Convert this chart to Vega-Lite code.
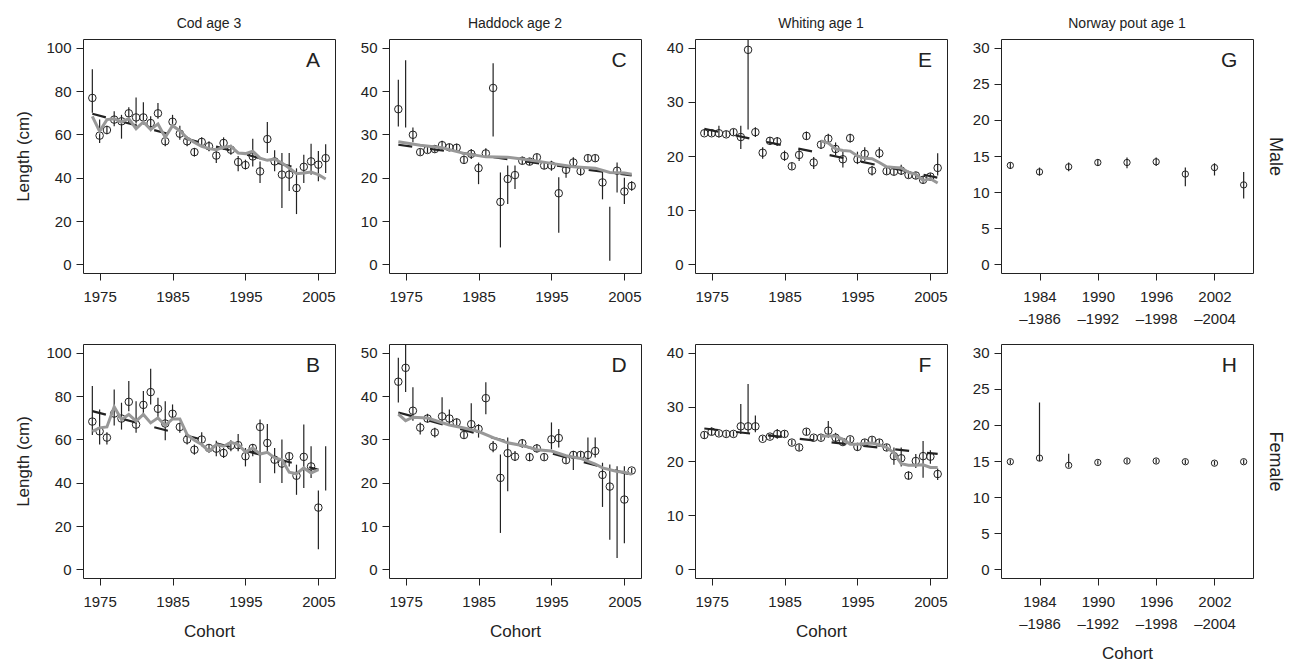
{
"$schema": "https://vega.github.io/schema/vega-lite/v6.json",
"padding": {"left": 14, "top": 16, "right": 0, "bottom": 0},
"columns": 4,
"spacing": {"row": 71, "column": 54},
"bounds": "flush",
"datasets": {
"pts": [
{"p":"A","year":1974,"len":76.8,"lo":70,"hi":90},{"p":"A","year":1975,"len":59.4,"lo":56,"hi":66.8},{"p":"A","year":1976,"len":62,"lo":60,"hi":64},{"p":"A","year":1977,"len":66.8,"lo":63.7,"hi":70.6},{"p":"A","year":1978,"len":66,"lo":58,"hi":69},{"p":"A","year":1979,"len":69.7,"lo":65,"hi":72.5},{"p":"A","year":1980,"len":67.8,"lo":65,"hi":77},{"p":"A","year":1981,"len":67.8,"lo":64.5,"hi":74.8},{"p":"A","year":1982,"len":65.2,"lo":61.4,"hi":68.3},{"p":"A","year":1983,"len":69.7,"lo":67.2,"hi":74.5},{"p":"A","year":1984,"len":56.8,"lo":54.5,"hi":59},{"p":"A","year":1985,"len":65.8,"lo":63,"hi":69},{"p":"A","year":1986,"len":60.3,"lo":57.5,"hi":64},{"p":"A","year":1987,"len":56.8,"lo":54.5,"hi":59},{"p":"A","year":1988,"len":51.8,"lo":49.8,"hi":53.7},{"p":"A","year":1989,"len":56.5,"lo":54.5,"hi":58.6},{"p":"A","year":1990,"len":54.5,"lo":52.2,"hi":56.8},{"p":"A","year":1991,"len":50.2,"lo":46.8,"hi":52.2},{"p":"A","year":1992,"len":56,"lo":52.9,"hi":58.6},{"p":"A","year":1993,"len":52.9,"lo":50.6,"hi":55.2},{"p":"A","year":1994,"len":47.2,"lo":43,"hi":50},{"p":"A","year":1995,"len":45.8,"lo":43.8,"hi":48.3},{"p":"A","year":1996,"len":49.8,"lo":45.2,"hi":58},{"p":"A","year":1997,"len":42.9,"lo":37.5,"hi":47.5},{"p":"A","year":1998,"len":57.8,"lo":51.4,"hi":65.7},{"p":"A","year":1999,"len":47.5,"lo":43,"hi":52.6},{"p":"A","year":2000,"len":41.4,"lo":26,"hi":51.4},{"p":"A","year":2001,"len":41.4,"lo":33.8,"hi":51.4},{"p":"A","year":2002,"len":35.2,"lo":23.2,"hi":44.3},{"p":"A","year":2003,"len":45,"lo":37.5,"hi":50.6},{"p":"A","year":2004,"len":47.5,"lo":41.4,"hi":55.7},{"p":"A","year":2005,"len":46,"lo":38.4,"hi":52.3},{"p":"A","year":2006,"len":49,"lo":42.2,"hi":55.4},
{"p":"B","year":1974,"len":68.2,"lo":62,"hi":84.6},{"p":"B","year":1975,"len":63.7,"lo":57.6,"hi":73.8},{"p":"B","year":1976,"len":60.8,"lo":57.6,"hi":63.3},{"p":"B","year":1977,"len":71.9,"lo":66.4,"hi":83},{"p":"B","year":1978,"len":69.6,"lo":64.5,"hi":76.9},{"p":"B","year":1979,"len":77.3,"lo":73,"hi":86.9},{"p":"B","year":1980,"len":66.8,"lo":63,"hi":77.6},{"p":"B","year":1981,"len":75.9,"lo":70.7,"hi":82.3},{"p":"B","year":1982,"len":81.8,"lo":76.1,"hi":92.6},{"p":"B","year":1983,"len":74.1,"lo":69.1,"hi":79.2},{"p":"B","year":1984,"len":67.3,"lo":59.6,"hi":77.6},{"p":"B","year":1985,"len":71.8,"lo":69.1,"hi":76.1},{"p":"B","year":1986,"len":65.7,"lo":63,"hi":67.6},{"p":"B","year":1987,"len":59.9,"lo":57.6,"hi":62.2},{"p":"B","year":1988,"len":55.2,"lo":52.9,"hi":57.6},{"p":"B","year":1989,"len":59.9,"lo":56.8,"hi":63.3},{"p":"B","year":1990,"len":56,"lo":53.7,"hi":57.6},{"p":"B","year":1991,"len":55.7,"lo":52.2,"hi":59.3},{"p":"B","year":1992,"len":53.7,"lo":51.4,"hi":56},{"p":"B","year":1993,"len":57.1,"lo":54.5,"hi":59.6},{"p":"B","year":1994,"len":57.3,"lo":54.5,"hi":62.5},{"p":"B","year":1995,"len":52.2,"lo":47.5,"hi":56},{"p":"B","year":1996,"len":56,"lo":52.2,"hi":57.9},{"p":"B","year":1997,"len":65.7,"lo":39.8,"hi":69.1},{"p":"B","year":1998,"len":58.3,"lo":53.7,"hi":67.1},{"p":"B","year":1999,"len":50.6,"lo":44.4,"hi":56},{"p":"B","year":2000,"len":48.8,"lo":39.8,"hi":59.9},{"p":"B","year":2001,"len":52.2,"lo":47.5,"hi":54},{"p":"B","year":2002,"len":43.2,"lo":34.4,"hi":48.3},{"p":"B","year":2003,"len":51.9,"lo":37.5,"hi":66.8},{"p":"B","year":2004,"len":47.5,"lo":42.1,"hi":56.8},{"p":"B","year":2005,"len":28.5,"lo":9.3,"hi":36.4},{"p":"B","year":2006,"len":null,"lo":36.4,"hi":56.8},
{"p":"C","year":1974,"len":35.8,"lo":31.8,"hi":42.6},{"p":"C","year":1975,"len":null,"lo":31.6,"hi":47.1},{"p":"C","year":1976,"len":29.9,"lo":28.2,"hi":31.6},{"p":"C","year":1977,"len":25.9,"lo":25.2,"hi":26.6},{"p":"C","year":1978,"len":26.4,"lo":25.7,"hi":27.1},{"p":"C","year":1979,"len":26.6,"lo":25.8,"hi":27.4},{"p":"C","year":1980,"len":27.5,"lo":26.4,"hi":28.5},{"p":"C","year":1981,"len":27,"lo":26.2,"hi":27.8},{"p":"C","year":1982,"len":26.9,"lo":25.9,"hi":27.8},{"p":"C","year":1983,"len":24.1,"lo":23.3,"hi":25.1},{"p":"C","year":1984,"len":25.5,"lo":24.3,"hi":26.6},{"p":"C","year":1985,"len":22.2,"lo":18.5,"hi":23.5},{"p":"C","year":1986,"len":25.6,"lo":24.7,"hi":26.8},{"p":"C","year":1987,"len":40.7,"lo":29.5,"hi":46.4},{"p":"C","year":1988,"len":14.4,"lo":3.9,"hi":21.2},{"p":"C","year":1989,"len":19.7,"lo":13.9,"hi":22.8},{"p":"C","year":1990,"len":20.6,"lo":17.4,"hi":22.8},{"p":"C","year":1991,"len":23.9,"lo":23.1,"hi":24.8},{"p":"C","year":1992,"len":23.7,"lo":22.9,"hi":24.5},{"p":"C","year":1993,"len":24.7,"lo":23.7,"hi":25.5},{"p":"C","year":1994,"len":22.8,"lo":22,"hi":23.6},{"p":"C","year":1995,"len":22.8,"lo":21.6,"hi":23.9},{"p":"C","year":1996,"len":16.4,"lo":7.3,"hi":20.1},{"p":"C","year":1997,"len":21.8,"lo":20,"hi":22.8},{"p":"C","year":1998,"len":23.5,"lo":22.3,"hi":24.7},{"p":"C","year":1999,"len":21.5,"lo":20.5,"hi":22.4},{"p":"C","year":2000,"len":24.5,"lo":23.7,"hi":25.3},{"p":"C","year":2001,"len":24.5,"lo":23.7,"hi":25.3},{"p":"C","year":2002,"len":18.9,"lo":15,"hi":21.6},{"p":"C","year":2003,"len":null,"lo":0.8,"hi":13.3},{"p":"C","year":2004,"len":21.6,"lo":16.6,"hi":23.5},{"p":"C","year":2005,"len":16.8,"lo":13.9,"hi":20},{"p":"C","year":2006,"len":18.1,"lo":17,"hi":19.2},
{"p":"D","year":1974,"len":43.3,"lo":38.5,"hi":48.8},{"p":"D","year":1975,"len":46.5,"lo":40.9,"hi":53},{"p":"D","year":1976,"len":36.6,"lo":34.3,"hi":42},{"p":"D","year":1977,"len":32.7,"lo":31.1,"hi":33.9},{"p":"D","year":1978,"len":34.8,"lo":33.9,"hi":35.9},{"p":"D","year":1979,"len":31.6,"lo":30.4,"hi":32.7},{"p":"D","year":1980,"len":35.3,"lo":33.9,"hi":39.7},{"p":"D","year":1981,"len":34.8,"lo":33.1,"hi":36.9},{"p":"D","year":1982,"len":33.9,"lo":32.7,"hi":34.8},{"p":"D","year":1983,"len":31,"lo":30.2,"hi":31.8},{"p":"D","year":1984,"len":33.5,"lo":32,"hi":38.3},{"p":"D","year":1985,"len":32.4,"lo":30.4,"hi":33.5},{"p":"D","year":1986,"len":39.5,"lo":35.8,"hi":43.2},{"p":"D","year":1987,"len":28.3,"lo":27,"hi":29.6},{"p":"D","year":1988,"len":21.1,"lo":8.4,"hi":26.5},{"p":"D","year":1989,"len":26.8,"lo":18,"hi":30.4},{"p":"D","year":1990,"len":26,"lo":25,"hi":27.3},{"p":"D","year":1991,"len":29.1,"lo":28.1,"hi":30},{"p":"D","year":1992,"len":25.9,"lo":25,"hi":26.8},{"p":"D","year":1993,"len":27.9,"lo":27,"hi":28.9},{"p":"D","year":1994,"len":25.9,"lo":25.1,"hi":26.7},{"p":"D","year":1995,"len":30,"lo":27.7,"hi":33.9},{"p":"D","year":1996,"len":30.3,"lo":28.1,"hi":32.4},{"p":"D","year":1997,"len":25.2,"lo":24.4,"hi":26},{"p":"D","year":1998,"len":26.4,"lo":22.9,"hi":27.3},{"p":"D","year":1999,"len":26.4,"lo":25.6,"hi":27.2},{"p":"D","year":2000,"len":26.4,"lo":25,"hi":30.4},{"p":"D","year":2001,"len":27.3,"lo":25.8,"hi":30.4},{"p":"D","year":2002,"len":21.8,"lo":14.4,"hi":24.6},{"p":"D","year":2003,"len":19.1,"lo":6.8,"hi":24.2},{"p":"D","year":2004,"len":null,"lo":2.6,"hi":23.8},{"p":"D","year":2005,"len":16.1,"lo":6,"hi":23.8},{"p":"D","year":2006,"len":22.8,"lo":22,"hi":23.4},
{"p":"E","year":1974,"len":24.2,"lo":23.8,"hi":24.8},{"p":"E","year":1975,"len":24.2,"lo":23.7,"hi":24.8},{"p":"E","year":1976,"len":24.2,"lo":23.4,"hi":25.6},{"p":"E","year":1977,"len":24,"lo":23.5,"hi":24.6},{"p":"E","year":1978,"len":24.4,"lo":23.8,"hi":25},{"p":"E","year":1979,"len":23.5,"lo":21.3,"hi":25.6},{"p":"E","year":1980,"len":39.6,"lo":24.9,"hi":45},{"p":"E","year":1981,"len":24.4,"lo":23.5,"hi":25.3},{"p":"E","year":1982,"len":20.6,"lo":19.5,"hi":21.6},{"p":"E","year":1983,"len":22.8,"lo":22.2,"hi":23.5},{"p":"E","year":1984,"len":22.7,"lo":21.9,"hi":23.5},{"p":"E","year":1985,"len":20,"lo":19.1,"hi":21},{"p":"E","year":1986,"len":18.1,"lo":17.5,"hi":18.8},{"p":"E","year":1987,"len":20.2,"lo":19.1,"hi":21.2},{"p":"E","year":1988,"len":23.7,"lo":23,"hi":24.5},{"p":"E","year":1989,"len":18.8,"lo":17.6,"hi":19.8},{"p":"E","year":1990,"len":22.1,"lo":21.3,"hi":22.8},{"p":"E","year":1991,"len":23.2,"lo":22.5,"hi":24.1},{"p":"E","year":1992,"len":21.3,"lo":20.1,"hi":22.5},{"p":"E","year":1993,"len":19.4,"lo":17.9,"hi":20.8},{"p":"E","year":1994,"len":23.3,"lo":22.5,"hi":24.1},{"p":"E","year":1995,"len":19.4,"lo":18.5,"hi":20.8},{"p":"E","year":1996,"len":20.4,"lo":19.1,"hi":21.6},{"p":"E","year":1997,"len":17.3,"lo":16.4,"hi":18.2},{"p":"E","year":1998,"len":20.5,"lo":19.6,"hi":21.6},{"p":"E","year":1999,"len":17.2,"lo":16.6,"hi":17.8},{"p":"E","year":2000,"len":17.1,"lo":16.5,"hi":17.7},{"p":"E","year":2001,"len":17.3,"lo":16.5,"hi":18.4},{"p":"E","year":2002,"len":16.5,"lo":15.9,"hi":17.1},{"p":"E","year":2003,"len":16.4,"lo":15.8,"hi":17},{"p":"E","year":2004,"len":15.6,"lo":15,"hi":16.3},{"p":"E","year":2005,"len":16.2,"lo":15.6,"hi":16.8},{"p":"E","year":2006,"len":17.8,"lo":16.4,"hi":20.5},
{"p":"F","year":1974,"len":24.8,"lo":24.1,"hi":25.4},{"p":"F","year":1975,"len":25.4,"lo":24.8,"hi":26.2},{"p":"F","year":1976,"len":25.1,"lo":24.6,"hi":25.6},{"p":"F","year":1977,"len":25,"lo":24.5,"hi":25.5},{"p":"F","year":1978,"len":25,"lo":24.5,"hi":25.5},{"p":"F","year":1979,"len":26.4,"lo":25,"hi":30.5},{"p":"F","year":1980,"len":26.4,"lo":25,"hi":34.2},{"p":"F","year":1981,"len":26.4,"lo":25.3,"hi":28.4},{"p":"F","year":1982,"len":24.1,"lo":23.7,"hi":24.6},{"p":"F","year":1983,"len":24.5,"lo":24,"hi":25},{"p":"F","year":1984,"len":25,"lo":24.1,"hi":25.9},{"p":"F","year":1985,"len":25,"lo":24.4,"hi":25.6},{"p":"F","year":1986,"len":23.4,"lo":22.9,"hi":23.9},{"p":"F","year":1987,"len":22.5,"lo":21.9,"hi":23.1},{"p":"F","year":1988,"len":25.4,"lo":24.8,"hi":26},{"p":"F","year":1989,"len":24.3,"lo":23.8,"hi":24.8},{"p":"F","year":1990,"len":24.3,"lo":23.8,"hi":24.8},{"p":"F","year":1991,"len":25.6,"lo":24.3,"hi":27.4},{"p":"F","year":1992,"len":24.3,"lo":23.4,"hi":25.2},{"p":"F","year":1993,"len":23.5,"lo":22.9,"hi":24.1},{"p":"F","year":1994,"len":24,"lo":23.5,"hi":24.5},{"p":"F","year":1995,"len":22.6,"lo":21.9,"hi":23.3},{"p":"F","year":1996,"len":23.4,"lo":22.8,"hi":24},{"p":"F","year":1997,"len":23.9,"lo":23.3,"hi":24.5},{"p":"F","year":1998,"len":23.4,"lo":22.8,"hi":24},{"p":"F","year":1999,"len":22.5,"lo":21.9,"hi":23.1},{"p":"F","year":2000,"len":20.9,"lo":19.3,"hi":22.5},{"p":"F","year":2001,"len":20.5,"lo":19,"hi":22.5},{"p":"F","year":2002,"len":17.3,"lo":16.6,"hi":18.1},{"p":"F","year":2003,"len":20,"lo":18.7,"hi":21.3},{"p":"F","year":2004,"len":20.9,"lo":16.9,"hi":23.7},{"p":"F","year":2005,"len":20.8,"lo":19.5,"hi":22},{"p":"F","year":2006,"len":17.6,"lo":16.5,"hi":18.6},
{"p":"G","year":1981,"len":13.7,"lo":13.2,"hi":14.1},{"p":"G","year":1984,"len":12.8,"lo":12.3,"hi":13.4},{"p":"G","year":1987,"len":13.5,"lo":12.9,"hi":14.1},{"p":"G","year":1990,"len":14.1,"lo":13.6,"hi":14.6},{"p":"G","year":1993,"len":14.1,"lo":13.3,"hi":14.8},{"p":"G","year":1996,"len":14.2,"lo":13.6,"hi":14.8},{"p":"G","year":1999,"len":12.5,"lo":10.8,"hi":13.4},{"p":"G","year":2002,"len":13.4,"lo":12.3,"hi":14},{"p":"G","year":2005,"len":11,"lo":9.1,"hi":12.8},
{"p":"H","year":1981,"len":14.9,"lo":14.6,"hi":15.2},{"p":"H","year":1984,"len":15.4,"lo":15,"hi":23.1},{"p":"H","year":1987,"len":14.4,"lo":14.1,"hi":16},{"p":"H","year":1990,"len":14.8,"lo":14.5,"hi":15.1},{"p":"H","year":1993,"len":15,"lo":14.7,"hi":15.3},{"p":"H","year":1996,"len":15,"lo":14.7,"hi":15.3},{"p":"H","year":1999,"len":14.9,"lo":14.6,"hi":15.2},{"p":"H","year":2002,"len":14.7,"lo":14.4,"hi":15},{"p":"H","year":2005,"len":14.9,"lo":14.6,"hi":15.2}
],
"lines": [
{"p":"A","s":"k","year":1974,"v":69.5},{"p":"A","s":"k","year":2002,"v":44.5},
{"p":"B","s":"k","year":1974,"v":73},{"p":"B","s":"k","year":2005,"v":46},
{"p":"C","s":"k","year":1974,"v":27.6},{"p":"C","s":"k","year":2006,"v":20.5},
{"p":"D","s":"k","year":1974,"v":36.2},{"p":"D","s":"k","year":2006,"v":21.8},
{"p":"E","s":"k","year":1974,"v":25},{"p":"E","s":"k","year":2006,"v":16},
{"p":"F","s":"k","year":1974,"v":26},{"p":"F","s":"k","year":2006,"v":21.3},
{"p":"A","s":"g","year":1974,"v":68.3},{"p":"A","s":"g","year":1975,"v":61.4},{"p":"A","s":"g","year":1976,"v":66.8},{"p":"A","s":"g","year":1977,"v":67.2},{"p":"A","s":"g","year":1978,"v":65.7},{"p":"A","s":"g","year":1979,"v":67.2},{"p":"A","s":"g","year":1980,"v":62.6},{"p":"A","s":"g","year":1981,"v":65.7},{"p":"A","s":"g","year":1982,"v":62.2},{"p":"A","s":"g","year":1983,"v":64.8},{"p":"A","s":"g","year":1984,"v":58.6},{"p":"A","s":"g","year":1985,"v":64},{"p":"A","s":"g","year":1986,"v":61.7},{"p":"A","s":"g","year":1987,"v":58.3},{"p":"A","s":"g","year":1988,"v":56.3},{"p":"A","s":"g","year":1989,"v":54.5},{"p":"A","s":"g","year":1990,"v":53.4},{"p":"A","s":"g","year":1991,"v":52.9},{"p":"A","s":"g","year":1992,"v":54},{"p":"A","s":"g","year":1993,"v":54.5},{"p":"A","s":"g","year":1994,"v":51.4},{"p":"A","s":"g","year":1995,"v":51.1},{"p":"A","s":"g","year":1996,"v":52.2},{"p":"A","s":"g","year":1997,"v":49},{"p":"A","s":"g","year":1998,"v":48},{"p":"A","s":"g","year":1999,"v":48.6},{"p":"A","s":"g","year":2000,"v":46.8},{"p":"A","s":"g","year":2001,"v":44.5},{"p":"A","s":"g","year":2002,"v":41.8},{"p":"A","s":"g","year":2003,"v":42.2},{"p":"A","s":"g","year":2004,"v":42.6},{"p":"A","s":"g","year":2005,"v":41.4},{"p":"A","s":"g","year":2006,"v":39.4},
{"p":"B","s":"g","year":1974,"v":63.7},{"p":"B","s":"g","year":1975,"v":65.3},{"p":"B","s":"g","year":1976,"v":65.7},{"p":"B","s":"g","year":1977,"v":75},{"p":"B","s":"g","year":1978,"v":69.1},{"p":"B","s":"g","year":1979,"v":71.5},{"p":"B","s":"g","year":1980,"v":68.4},{"p":"B","s":"g","year":1981,"v":71.5},{"p":"B","s":"g","year":1982,"v":67.6},{"p":"B","s":"g","year":1983,"v":69.9},{"p":"B","s":"g","year":1984,"v":66.4},{"p":"B","s":"g","year":1985,"v":69.4},{"p":"B","s":"g","year":1986,"v":69.4},{"p":"B","s":"g","year":1987,"v":62.2},{"p":"B","s":"g","year":1988,"v":59.6},{"p":"B","s":"g","year":1989,"v":57.6},{"p":"B","s":"g","year":1990,"v":54.5},{"p":"B","s":"g","year":1991,"v":57.6},{"p":"B","s":"g","year":1992,"v":56.8},{"p":"B","s":"g","year":1993,"v":58.6},{"p":"B","s":"g","year":1994,"v":57.6},{"p":"B","s":"g","year":1995,"v":54.2},{"p":"B","s":"g","year":1996,"v":56},{"p":"B","s":"g","year":1997,"v":53.2},{"p":"B","s":"g","year":1998,"v":54},{"p":"B","s":"g","year":1999,"v":51.4},{"p":"B","s":"g","year":2000,"v":50.6},{"p":"B","s":"g","year":2001,"v":44.8},{"p":"B","s":"g","year":2002,"v":44.1},{"p":"B","s":"g","year":2003,"v":46.8},{"p":"B","s":"g","year":2004,"v":44.4},{"p":"B","s":"g","year":2005,"v":46},
{"p":"C","s":"g","year":1974,"v":28.3},{"p":"C","s":"g","year":1977,"v":27.5},{"p":"C","s":"g","year":1980,"v":26.9},{"p":"C","s":"g","year":1983,"v":25.6},{"p":"C","s":"g","year":1986,"v":24.8},{"p":"C","s":"g","year":1989,"v":24.7},{"p":"C","s":"g","year":1992,"v":24.1},{"p":"C","s":"g","year":1995,"v":23.3},{"p":"C","s":"g","year":1998,"v":22.5},{"p":"C","s":"g","year":2001,"v":22.2},{"p":"C","s":"g","year":2003,"v":21.2},{"p":"C","s":"g","year":2005,"v":21.1},{"p":"C","s":"g","year":2006,"v":20.8},
{"p":"D","s":"g","year":1974,"v":35.8},{"p":"D","s":"g","year":1975,"v":34.3},{"p":"D","s":"g","year":1976,"v":35.1},{"p":"D","s":"g","year":1978,"v":34.9},{"p":"D","s":"g","year":1981,"v":33.3},{"p":"D","s":"g","year":1983,"v":32.6},{"p":"D","s":"g","year":1985,"v":31.8},{"p":"D","s":"g","year":1987,"v":30.4},{"p":"D","s":"g","year":1989,"v":29.2},{"p":"D","s":"g","year":1991,"v":28.6},{"p":"D","s":"g","year":1993,"v":27.6},{"p":"D","s":"g","year":1995,"v":27.3},{"p":"D","s":"g","year":1997,"v":26.2},{"p":"D","s":"g","year":1999,"v":25.6},{"p":"D","s":"g","year":2001,"v":24.3},{"p":"D","s":"g","year":2002,"v":23.4},{"p":"D","s":"g","year":2004,"v":22.6},{"p":"D","s":"g","year":2005,"v":22.4},{"p":"D","s":"g","year":2006,"v":21.9},
{"p":"E","s":"g","year":1990,"v":22.8},{"p":"E","s":"g","year":1991,"v":22.4},{"p":"E","s":"g","year":1992,"v":21.3},{"p":"E","s":"g","year":1993,"v":21},{"p":"E","s":"g","year":1994,"v":20.9},{"p":"E","s":"g","year":1995,"v":20},{"p":"E","s":"g","year":1996,"v":19.6},{"p":"E","s":"g","year":1997,"v":19.5},{"p":"E","s":"g","year":1998,"v":18.8},{"p":"E","s":"g","year":1999,"v":18},{"p":"E","s":"g","year":2000,"v":17.9},{"p":"E","s":"g","year":2001,"v":17.8},{"p":"E","s":"g","year":2002,"v":17},{"p":"E","s":"g","year":2003,"v":16.6},{"p":"E","s":"g","year":2004,"v":15.5},{"p":"E","s":"g","year":2005,"v":15.8},{"p":"E","s":"g","year":2006,"v":15},
{"p":"F","s":"g","year":1990,"v":24.6},{"p":"F","s":"g","year":1991,"v":24.6},{"p":"F","s":"g","year":1992,"v":24.6},{"p":"F","s":"g","year":1993,"v":24},{"p":"F","s":"g","year":1994,"v":23.1},{"p":"F","s":"g","year":1995,"v":23.1},{"p":"F","s":"g","year":1996,"v":23.2},{"p":"F","s":"g","year":1997,"v":23.3},{"p":"F","s":"g","year":1998,"v":23},{"p":"F","s":"g","year":1999,"v":22.5},{"p":"F","s":"g","year":2000,"v":21.5},{"p":"F","s":"g","year":2001,"v":19.5},{"p":"F","s":"g","year":2002,"v":19.2},{"p":"F","s":"g","year":2003,"v":19.2},{"p":"F","s":"g","year":2004,"v":19.3},{"p":"F","s":"g","year":2005,"v":18.8},{"p":"F","s":"g","year":2006,"v":18.8}
]
},
"concat": [
{"width":252,"height":234,"title":"Cod age 3","resolve":{"axis":{"x":"independent","y":"independent"}},"layer":[
 {"data":{"name":"pts"},"transform":[{"filter":"datum.p=='A'"}],"mark":{"type":"rule","clip":true,"color":"#222","strokeWidth":1.2},"encoding":{"x":{"field":"year","type":"quantitative","scale":{"domain":[1972.72,2007.28],"nice":false,"zero":false},"axis":{"values":[1975,1985,1995,2005],"format":"d","title":null}},"y":{"field":"lo","type":"quantitative","scale":{"domain":[-4,104],"nice":false,"zero":false},"axis":{"values":[0,20,40,60,80,100],"title":"Length (cm)"}},"y2":{"field":"hi"}}},
 {"data":{"name":"pts"},"transform":[{"filter":"datum.p=='A'"}],"mark":{"type":"point","shape":"circle","filled":false,"size":57,"color":"#222","strokeWidth":1,"opacity":1},"encoding":{"x":{"field":"year","type":"quantitative","axis":null},"y":{"field":"len","type":"quantitative","axis":null}}},
 {"data":{"name":"lines"},"transform":[{"filter":"datum.p=='A' && datum.s=='k'"}],"mark":{"type":"line","color":"#222","strokeWidth":2.2,"strokeDash":[14,18]},"encoding":{"x":{"field":"year","type":"quantitative","axis":null},"y":{"field":"v","type":"quantitative","axis":null}}},
 {"data":{"name":"lines"},"transform":[{"filter":"datum.p=='A' && datum.s=='g'"}],"mark":{"type":"line","color":"#989898","strokeWidth":3},"encoding":{"x":{"field":"year","type":"quantitative","axis":null},"y":{"field":"v","type":"quantitative","axis":null}}},
 {"data":{"values":[{"lab":"A"}]},"mark":{"type":"text","fontSize":21,"color":"#222","align":"center","baseline":"middle"},"encoding":{"text":{"field":"lab"},"x":{"datum":2004.26,"type":"quantitative","axis":null},"y":{"datum":93.8,"type":"quantitative","axis":null}}}
]},
{"width":252,"height":234,"title":"Haddock age 2","resolve":{"axis":{"x":"independent","y":"independent"}},"layer":[
 {"data":{"name":"pts"},"transform":[{"filter":"datum.p=='C'"}],"mark":{"type":"rule","clip":true,"color":"#222","strokeWidth":1.2},"encoding":{"x":{"field":"year","type":"quantitative","scale":{"domain":[1972.72,2007.28],"nice":false,"zero":false},"axis":{"values":[1975,1985,1995,2005],"format":"d","title":null}},"y":{"field":"lo","type":"quantitative","scale":{"domain":[-2,52],"nice":false,"zero":false},"axis":{"values":[0,10,20,30,40,50],"title":null}},"y2":{"field":"hi"}}},
 {"data":{"name":"pts"},"transform":[{"filter":"datum.p=='C'"}],"mark":{"type":"point","shape":"circle","filled":false,"size":57,"color":"#222","strokeWidth":1,"opacity":1},"encoding":{"x":{"field":"year","type":"quantitative","axis":null},"y":{"field":"len","type":"quantitative","axis":null}}},
 {"data":{"name":"lines"},"transform":[{"filter":"datum.p=='C' && datum.s=='k'"}],"mark":{"type":"line","color":"#222","strokeWidth":2.2,"strokeDash":[14,18]},"encoding":{"x":{"field":"year","type":"quantitative","axis":null},"y":{"field":"v","type":"quantitative","axis":null}}},
 {"data":{"name":"lines"},"transform":[{"filter":"datum.p=='C' && datum.s=='g'"}],"mark":{"type":"line","color":"#989898","strokeWidth":3},"encoding":{"x":{"field":"year","type":"quantitative","axis":null},"y":{"field":"v","type":"quantitative","axis":null}}},
 {"data":{"values":[{"lab":"C"}]},"mark":{"type":"text","fontSize":21,"color":"#222","align":"center","baseline":"middle"},"encoding":{"text":{"field":"lab"},"x":{"datum":2004.26,"type":"quantitative","axis":null},"y":{"datum":46.9,"type":"quantitative","axis":null}}}
]},
{"width":252,"height":234,"title":"Whiting age 1","resolve":{"axis":{"x":"independent","y":"independent"}},"layer":[
 {"data":{"name":"pts"},"transform":[{"filter":"datum.p=='E'"}],"mark":{"type":"rule","clip":true,"color":"#222","strokeWidth":1.2},"encoding":{"x":{"field":"year","type":"quantitative","scale":{"domain":[1972.72,2007.28],"nice":false,"zero":false},"axis":{"values":[1975,1985,1995,2005],"format":"d","title":null}},"y":{"field":"lo","type":"quantitative","scale":{"domain":[-1.6,41.6],"nice":false,"zero":false},"axis":{"values":[0,10,20,30,40],"title":null}},"y2":{"field":"hi"}}},
 {"data":{"name":"pts"},"transform":[{"filter":"datum.p=='E'"}],"mark":{"type":"point","shape":"circle","filled":false,"size":57,"color":"#222","strokeWidth":1,"opacity":1},"encoding":{"x":{"field":"year","type":"quantitative","axis":null},"y":{"field":"len","type":"quantitative","axis":null}}},
 {"data":{"name":"lines"},"transform":[{"filter":"datum.p=='E' && datum.s=='k'"}],"mark":{"type":"line","color":"#222","strokeWidth":2.2,"strokeDash":[14,18]},"encoding":{"x":{"field":"year","type":"quantitative","axis":null},"y":{"field":"v","type":"quantitative","axis":null}}},
 {"data":{"name":"lines"},"transform":[{"filter":"datum.p=='E' && datum.s=='g'"}],"mark":{"type":"line","color":"#989898","strokeWidth":3},"encoding":{"x":{"field":"year","type":"quantitative","axis":null},"y":{"field":"v","type":"quantitative","axis":null}}},
 {"data":{"values":[{"lab":"E"}]},"mark":{"type":"text","fontSize":21,"color":"#222","align":"center","baseline":"middle"},"encoding":{"text":{"field":"lab"},"x":{"datum":2004.26,"type":"quantitative","axis":null},"y":{"datum":37.5,"type":"quantitative","axis":null}}}
]},
{"width":252,"height":234,"title":"Norway pout age 1","resolve":{"axis":{"x":"independent","y":"independent"}},"layer":[
 {"data":{"name":"pts"},"transform":[{"filter":"datum.p=='G'"}],"mark":{"type":"rule","clip":true,"color":"#222","strokeWidth":1.2},"encoding":{"x":{"field":"year","type":"quantitative","scale":{"domain":[1980.04,2005.96],"nice":false,"zero":false},"axis":{"values":[1984,1990,1996,2002],"format":"d","title":null,"labelExpr":"[datum.label, '–' + format(datum.value + 2, 'd')]","labelLineHeight":22}},"y":{"field":"lo","type":"quantitative","scale":{"domain":[-1.2,31.2],"nice":false,"zero":false},"axis":{"values":[0,5,10,15,20,25,30],"title":null}},"y2":{"field":"hi"}}},
 {"data":{"name":"pts"},"transform":[{"filter":"datum.p=='G'"}],"mark":{"type":"point","shape":"circle","filled":false,"size":40,"color":"#222","strokeWidth":1,"opacity":1},"encoding":{"x":{"field":"year","type":"quantitative","axis":null},"y":{"field":"len","type":"quantitative","axis":null}}},
 {"data":{"values":[{"lab":"G"}]},"mark":{"type":"text","fontSize":21,"color":"#222","align":"center","baseline":"middle"},"encoding":{"text":{"field":"lab"},"x":{"datum":2003.52,"type":"quantitative","axis":null},"y":{"datum":28.15,"type":"quantitative","axis":{"orient":"right","title":"Male","labels":false,"ticks":false,"domain":false,"titlePadding":12,"titleFontSize":18}}}}
]},
{"width":252,"height":234,"resolve":{"axis":{"x":"independent","y":"independent"}},"layer":[
 {"data":{"name":"pts"},"transform":[{"filter":"datum.p=='B'"}],"mark":{"type":"rule","clip":true,"color":"#222","strokeWidth":1.2},"encoding":{"x":{"field":"year","type":"quantitative","scale":{"domain":[1972.72,2007.28],"nice":false,"zero":false},"axis":{"values":[1975,1985,1995,2005],"format":"d","title":"Cohort"}},"y":{"field":"lo","type":"quantitative","scale":{"domain":[-4,104],"nice":false,"zero":false},"axis":{"values":[0,20,40,60,80,100],"title":"Length (cm)"}},"y2":{"field":"hi"}}},
 {"data":{"name":"pts"},"transform":[{"filter":"datum.p=='B'"}],"mark":{"type":"point","shape":"circle","filled":false,"size":57,"color":"#222","strokeWidth":1,"opacity":1},"encoding":{"x":{"field":"year","type":"quantitative","axis":null},"y":{"field":"len","type":"quantitative","axis":null}}},
 {"data":{"name":"lines"},"transform":[{"filter":"datum.p=='B' && datum.s=='k'"}],"mark":{"type":"line","color":"#222","strokeWidth":2.2,"strokeDash":[14,18]},"encoding":{"x":{"field":"year","type":"quantitative","axis":null},"y":{"field":"v","type":"quantitative","axis":null}}},
 {"data":{"name":"lines"},"transform":[{"filter":"datum.p=='B' && datum.s=='g'"}],"mark":{"type":"line","color":"#989898","strokeWidth":3},"encoding":{"x":{"field":"year","type":"quantitative","axis":null},"y":{"field":"v","type":"quantitative","axis":null}}},
 {"data":{"values":[{"lab":"B"}]},"mark":{"type":"text","fontSize":21,"color":"#222","align":"center","baseline":"middle"},"encoding":{"text":{"field":"lab"},"x":{"datum":2004.26,"type":"quantitative","axis":null},"y":{"datum":93.8,"type":"quantitative","axis":null}}}
]},
{"width":252,"height":234,"resolve":{"axis":{"x":"independent","y":"independent"}},"layer":[
 {"data":{"name":"pts"},"transform":[{"filter":"datum.p=='D'"}],"mark":{"type":"rule","clip":true,"color":"#222","strokeWidth":1.2},"encoding":{"x":{"field":"year","type":"quantitative","scale":{"domain":[1972.72,2007.28],"nice":false,"zero":false},"axis":{"values":[1975,1985,1995,2005],"format":"d","title":"Cohort"}},"y":{"field":"lo","type":"quantitative","scale":{"domain":[-2,52],"nice":false,"zero":false},"axis":{"values":[0,10,20,30,40,50],"title":null}},"y2":{"field":"hi"}}},
 {"data":{"name":"pts"},"transform":[{"filter":"datum.p=='D'"}],"mark":{"type":"point","shape":"circle","filled":false,"size":57,"color":"#222","strokeWidth":1,"opacity":1},"encoding":{"x":{"field":"year","type":"quantitative","axis":null},"y":{"field":"len","type":"quantitative","axis":null}}},
 {"data":{"name":"lines"},"transform":[{"filter":"datum.p=='D' && datum.s=='k'"}],"mark":{"type":"line","color":"#222","strokeWidth":2.2,"strokeDash":[14,18]},"encoding":{"x":{"field":"year","type":"quantitative","axis":null},"y":{"field":"v","type":"quantitative","axis":null}}},
 {"data":{"name":"lines"},"transform":[{"filter":"datum.p=='D' && datum.s=='g'"}],"mark":{"type":"line","color":"#989898","strokeWidth":3},"encoding":{"x":{"field":"year","type":"quantitative","axis":null},"y":{"field":"v","type":"quantitative","axis":null}}},
 {"data":{"values":[{"lab":"D"}]},"mark":{"type":"text","fontSize":21,"color":"#222","align":"center","baseline":"middle"},"encoding":{"text":{"field":"lab"},"x":{"datum":2004.26,"type":"quantitative","axis":null},"y":{"datum":46.9,"type":"quantitative","axis":null}}}
]},
{"width":252,"height":234,"resolve":{"axis":{"x":"independent","y":"independent"}},"layer":[
 {"data":{"name":"pts"},"transform":[{"filter":"datum.p=='F'"}],"mark":{"type":"rule","clip":true,"color":"#222","strokeWidth":1.2},"encoding":{"x":{"field":"year","type":"quantitative","scale":{"domain":[1972.72,2007.28],"nice":false,"zero":false},"axis":{"values":[1975,1985,1995,2005],"format":"d","title":"Cohort"}},"y":{"field":"lo","type":"quantitative","scale":{"domain":[-1.6,41.6],"nice":false,"zero":false},"axis":{"values":[0,10,20,30,40],"title":null}},"y2":{"field":"hi"}}},
 {"data":{"name":"pts"},"transform":[{"filter":"datum.p=='F'"}],"mark":{"type":"point","shape":"circle","filled":false,"size":57,"color":"#222","strokeWidth":1,"opacity":1},"encoding":{"x":{"field":"year","type":"quantitative","axis":null},"y":{"field":"len","type":"quantitative","axis":null}}},
 {"data":{"name":"lines"},"transform":[{"filter":"datum.p=='F' && datum.s=='k'"}],"mark":{"type":"line","color":"#222","strokeWidth":2.2,"strokeDash":[14,18]},"encoding":{"x":{"field":"year","type":"quantitative","axis":null},"y":{"field":"v","type":"quantitative","axis":null}}},
 {"data":{"name":"lines"},"transform":[{"filter":"datum.p=='F' && datum.s=='g'"}],"mark":{"type":"line","color":"#989898","strokeWidth":3},"encoding":{"x":{"field":"year","type":"quantitative","axis":null},"y":{"field":"v","type":"quantitative","axis":null}}},
 {"data":{"values":[{"lab":"F"}]},"mark":{"type":"text","fontSize":21,"color":"#222","align":"center","baseline":"middle"},"encoding":{"text":{"field":"lab"},"x":{"datum":2004.26,"type":"quantitative","axis":null},"y":{"datum":37.5,"type":"quantitative","axis":null}}}
]},
{"width":252,"height":234,"resolve":{"axis":{"x":"independent","y":"independent"}},"layer":[
 {"data":{"name":"pts"},"transform":[{"filter":"datum.p=='H'"}],"mark":{"type":"rule","clip":true,"color":"#222","strokeWidth":1.2},"encoding":{"x":{"field":"year","type":"quantitative","scale":{"domain":[1980.04,2005.96],"nice":false,"zero":false},"axis":{"values":[1984,1990,1996,2002],"format":"d","title":"Cohort","labelExpr":"[datum.label, '–' + format(datum.value + 2, 'd')]","labelLineHeight":22}},"y":{"field":"lo","type":"quantitative","scale":{"domain":[-1.2,31.2],"nice":false,"zero":false},"axis":{"values":[0,5,10,15,20,25,30],"title":null}},"y2":{"field":"hi"}}},
 {"data":{"name":"pts"},"transform":[{"filter":"datum.p=='H'"}],"mark":{"type":"point","shape":"circle","filled":false,"size":40,"color":"#222","strokeWidth":1,"opacity":1},"encoding":{"x":{"field":"year","type":"quantitative","axis":null},"y":{"field":"len","type":"quantitative","axis":null}}},
 {"data":{"values":[{"lab":"H"}]},"mark":{"type":"text","fontSize":21,"color":"#222","align":"center","baseline":"middle"},"encoding":{"text":{"field":"lab"},"x":{"datum":2003.52,"type":"quantitative","axis":null},"y":{"datum":28.15,"type":"quantitative","axis":{"orient":"right","title":"Female","labels":false,"ticks":false,"domain":false,"titlePadding":12,"titleFontSize":18}}}}
]}
],
"config": {
 "font": "Liberation Sans",
 "view": {"stroke": "#222", "strokeWidth": 1},
 "axis": {"domain": false, "grid": false, "ticks": true, "tickSize": 7, "tickColor": "#222", "tickWidth": 1, "labelFont": "Liberation Sans", "labelFontSize": 15, "labelColor": "#222", "titleFont": "Liberation Sans", "titleFontSize": 17, "titleFontWeight": "normal", "titleColor": "#222"},
 "axisY": {"titlePadding": 13, "labelPadding": 5},
 "axisX": {"titlePadding": 14, "labelPadding": 9},
 "title": {"font": "Liberation Sans", "fontSize": 14, "fontWeight": "normal", "color": "#222", "offset": 8}
}
}
